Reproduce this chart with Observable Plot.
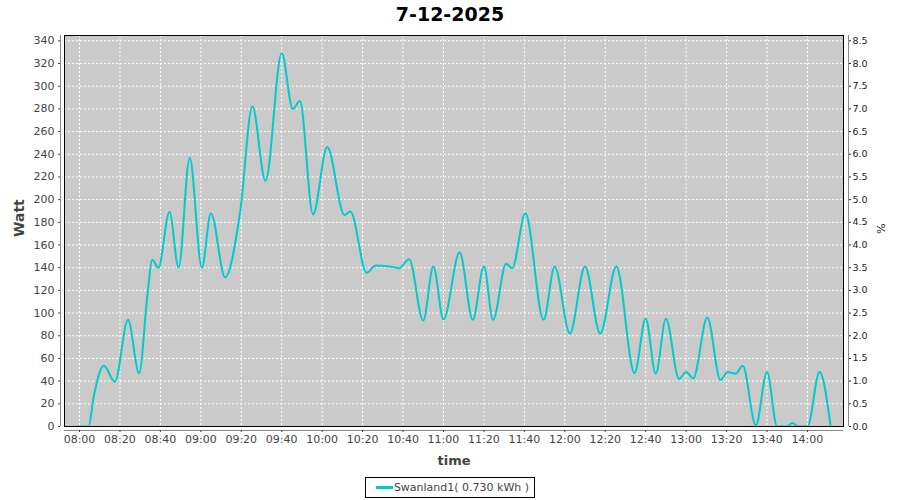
<!DOCTYPE html>
<html>
<head>
<meta charset="utf-8">
<script src="https://cdn.jsdelivr.net/npm/d3@7"></script>
<script src="https://cdn.jsdelivr.net/npm/@observablehq/plot@0.6"></script>
<style>
  html, body { margin: 0; padding: 0; background: #ffffff; }
  body { width: 900px; height: 500px; overflow: hidden; font-family: "DejaVu Sans", sans-serif; }
  #title { height: 30px; line-height: 28px; text-align: center; font-weight: bold; font-size: 19px; color: #000; }
  #chart svg { display: block; }
  #legend { display: flex; justify-content: center; margin-top: 6px; }
  #legend .box { display: flex; align-items: center; height: 19px; border: 1px solid #000; padding: 0 5px 0 10px; font-size: 11px; color: #444; }
  #legend .swatch { width: 17px; height: 3px; margin-right: 1px; }
</style>
</head>
<body>
<div id="title"></div>
<div id="chart"></div>
<div id="legend"></div>
<script>
// ---- data ----
const chartTitle = "7-12-2025";
const seriesName = "Swanland1( 0.730 kWh )";
const yLabel = "Watt";
const xLabel = "time";
const y2Label = "%";

const times = [
  "07:59:00","08:04:30","08:07:00","08:12:00","08:17:30","08:24:00","08:29:30","08:33:30","08:36:00","08:39:00",
  "08:44:30","08:49:00","08:54:30","09:00:30","09:05:00","09:12:00","09:19:30","09:25:30","09:32:00","09:40:00",
  "09:45:30","09:49:00","09:55:30","10:02:30","10:11:00","10:14:00","10:22:00","10:26:30","10:35:30","10:38:00",
  "10:43:00","10:50:00","10:55:00","11:00:00","11:08:00","11:14:30","11:20:00","11:24:30","11:31:00","11:34:00",
  "11:40:30","11:49:30","11:55:00","12:02:30","12:10:00","12:17:30","12:25:30","12:34:30","12:40:00","12:45:00",
  "12:50:00","12:56:30","13:00:00","13:03:30","13:10:30","13:17:00","13:20:30","13:24:30","13:28:00","13:34:30",
  "13:40:00","13:45:00","13:50:00","13:52:30","13:55:30","14:00:00","14:06:00","14:11:30"
];
const watts = [
  0, 0, 26, 53.5, 39.5, 94, 47, 114, 147, 140,
  189, 140, 237, 140, 188, 131.5, 190, 282, 216.5, 329,
  280, 287, 187, 246.5, 186.5, 189.5, 135.5, 142, 140.5, 139.5,
  147.5, 93.5, 141, 94.5, 153.5, 94, 141, 94, 143.5, 139.5,
  188, 94, 141, 82, 141, 82, 141, 47, 95, 46.5,
  95, 42, 48, 42.5, 96, 41, 48, 46.5, 53.5, 1,
  48, 0, 0, 3, 0, 0, 48, 0
];
const xTickLabels = ["08:00","08:20","08:40","09:00","09:20","09:40","10:00","10:20","10:40","11:00",
  "11:20","11:40","12:00","12:20","12:40","13:00","13:20","13:40","14:00"];
const yTicks = [0,20,40,60,80,100,120,140,160,180,200,220,240,260,280,300,320,340];
const xDomainLabels = ["07:52:35", "14:17:50"];
const yDomain = [0, 344.7];
const percentPerWatt = 1 / 40;

// ---- build ----
const toDate = s => {
  const [h, m, sec = 0] = s.split(":").map(Number);
  return new Date(Date.UTC(2025, 11, 7, h, m, sec));
};
const data = times.map((t, i) => ({time: toDate(t), watt: watts[i]}));
const xTicks = xTickLabels.map(toDate);
const xDomain = xDomainLabels.map(toDate);
const lineColor = "#00cccc";

document.getElementById("title").textContent = chartTitle;

const plot = Plot.plot({
  width: 900,
  height: 441,
  marginTop: 5,
  marginBottom: 45,
  marginLeft: 64,
  marginRight: 57,
  style: {fontFamily: "DejaVu Sans, sans-serif", fontSize: "11px", color: "#444", background: "#ffffff"},
  x: {type: "utc", domain: xDomain, axis: null},
  y: {domain: yDomain, axis: null},
  marks: [
    Plot.frame({fill: "#cacaca", stroke: null}),
    Plot.gridX(xTicks, {stroke: "#ffffff", strokeOpacity: 1, strokeWidth: 1, strokeDasharray: "2,2"}),
    Plot.gridY(yTicks, {stroke: "#ffffff", strokeOpacity: 1, strokeWidth: 1, strokeDasharray: "2,2"}),
    Plot.line(data, {x: "time", y: "watt", stroke: lineColor, strokeWidth: 2, curve: "monotone-x", clip: true}),
    Plot.frame({stroke: "#000000", fill: null}),
    Plot.ruleX([xDomain[0]], {dx: -4, stroke: "#888888"}),
    Plot.ruleX([xDomain[1]], {dx: 5, stroke: "#888888"}),
    Plot.ruleY([0], {dy: 4, stroke: "#888888"}),
    Plot.axisY(yTicks, {anchor: "left", dx: -4, tickSize: 2, tickPadding: 4, label: null, color: "#444"}),
    Plot.axisY(yTicks, {anchor: "right", dx: 5, tickSize: 2, tickPadding: 2, label: null, color: "#222",
      fontSize: 9.5, tickFormat: d => (d * percentPerWatt).toFixed(1)}),
    Plot.axisX(xTicks, {anchor: "bottom", dy: 4, tickSize: 2, tickPadding: 3, label: null, color: "#444",
      tickFormat: d3.utcFormat("%H:%M")}),
    Plot.text([yLabel], {text: d => d, frameAnchor: "left", dx: -45, dy: 6, rotate: -90, fontWeight: "bold", fontSize: 14, fill: "#444"}),
    Plot.text([xLabel], {text: d => d, frameAnchor: "bottom", dy: 38, fontWeight: "bold", fontSize: 13, fill: "#444"}),
    Plot.text([y2Label], {text: d => d, frameAnchor: "right", dx: 37, dy: 3, rotate: 90, fontSize: 11, fill: "#222"})
  ]
});
document.getElementById("chart").appendChild(plot);

const legend = document.getElementById("legend");
const box = document.createElement("span");
box.className = "box";
const sw = document.createElement("span");
sw.className = "swatch";
sw.style.background = lineColor;
const lt = document.createElement("span");
lt.textContent = seriesName;
box.appendChild(sw);
box.appendChild(lt);
legend.appendChild(box);
</script>
</body>
</html>
